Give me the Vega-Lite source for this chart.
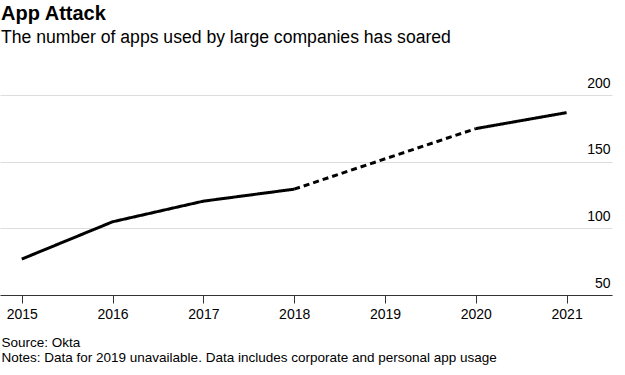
{
  "$schema": "https://vega.github.io/schema/vega-lite/v6.json",
  "autosize": "none",
  "padding": {"left": 0, "top": 82, "right": 13, "bottom": 80},
  "width": 612,
  "height": 213,
  "background": "white",
  "title": {
    "text": "App Attack",
    "subtitle": "The number of apps used by large companies has soared",
    "anchor": "start",
    "frame": "group",
    "font": "Liberation Sans",
    "fontSize": 20,
    "fontWeight": "bold",
    "color": "#000000",
    "subtitleFont": "Liberation Sans",
    "subtitleFontSize": 17.6,
    "subtitleColor": "#000000",
    "subtitlePadding": 5,
    "offset": 30,
    "dx": 1
  },
  "data": {
    "values": [
      {"year": 2015, "apps": 77, "segment": "a"},
      {"year": 2016, "apps": 105, "segment": "a"},
      {"year": 2017, "apps": 120.5, "segment": "a"},
      {"year": 2018, "apps": 129.5, "segment": "a"},
      {"year": 2018, "apps": 129.5, "segment": "b"},
      {"year": 2020, "apps": 175, "segment": "b"},
      {"year": 2020, "apps": 175, "segment": "c"},
      {"year": 2021, "apps": 187, "segment": "c"}
    ]
  },
  "mark": {"type": "line", "color": "#000000", "strokeWidth": 3, "strokeCap": "butt"},
  "encoding": {
    "x": {
      "field": "year",
      "type": "quantitative",
      "scale": {"domain": [2014.76, 2021.5], "nice": false, "zero": false},
      "axis": {
        "values": [2015, 2016, 2017, 2018, 2019, 2020, 2021],
        "format": "d",
        "grid": false,
        "domainColor": "#333333",
        "domainWidth": 1,
        "tickColor": "#333333",
        "tickSize": 8,
        "labelPadding": 4,
        "labelFont": "Liberation Sans",
        "labelFontSize": 14,
        "labelColor": "#000000",
        "title": ["Source: Okta", "Notes: Data for 2019 unavailable. Data includes corporate and personal app usage"],
        "titleFont": "Liberation Sans",
        "titleFontSize": 13.5,
        "titleFontWeight": "normal",
        "titleColor": "#000000",
        "titleAnchor": "start",
        "titleAlign": "left",
        "titleBaseline": "top",
        "titleX": 1,
        "titleY": 40,
        "titleLineHeight": 15
      }
    },
    "y": {
      "field": "apps",
      "type": "quantitative",
      "scale": {"domain": [50, 210], "nice": false, "zero": false},
      "axis": {
        "orient": "right",
        "values": [50, 100, 150, 200],
        "domain": false,
        "ticks": false,
        "gridColor": "#dddddd",
        "gridWidth": 1,
        "labelAlign": "right",
        "labelBaseline": "bottom",
        "labelOffset": -5,
        "labelPadding": -2,
        "labelFont": "Liberation Sans",
        "labelFontSize": 14,
        "labelColor": "#000000",
        "title": null
      }
    },
    "strokeDash": {
      "field": "segment",
      "type": "nominal",
      "scale": {"domain": ["a", "b", "c"], "range": [[1, 0], [6, 4], [1, 0]]},
      "legend": null
    }
  },
  "config": {"view": {"stroke": null}}
}
